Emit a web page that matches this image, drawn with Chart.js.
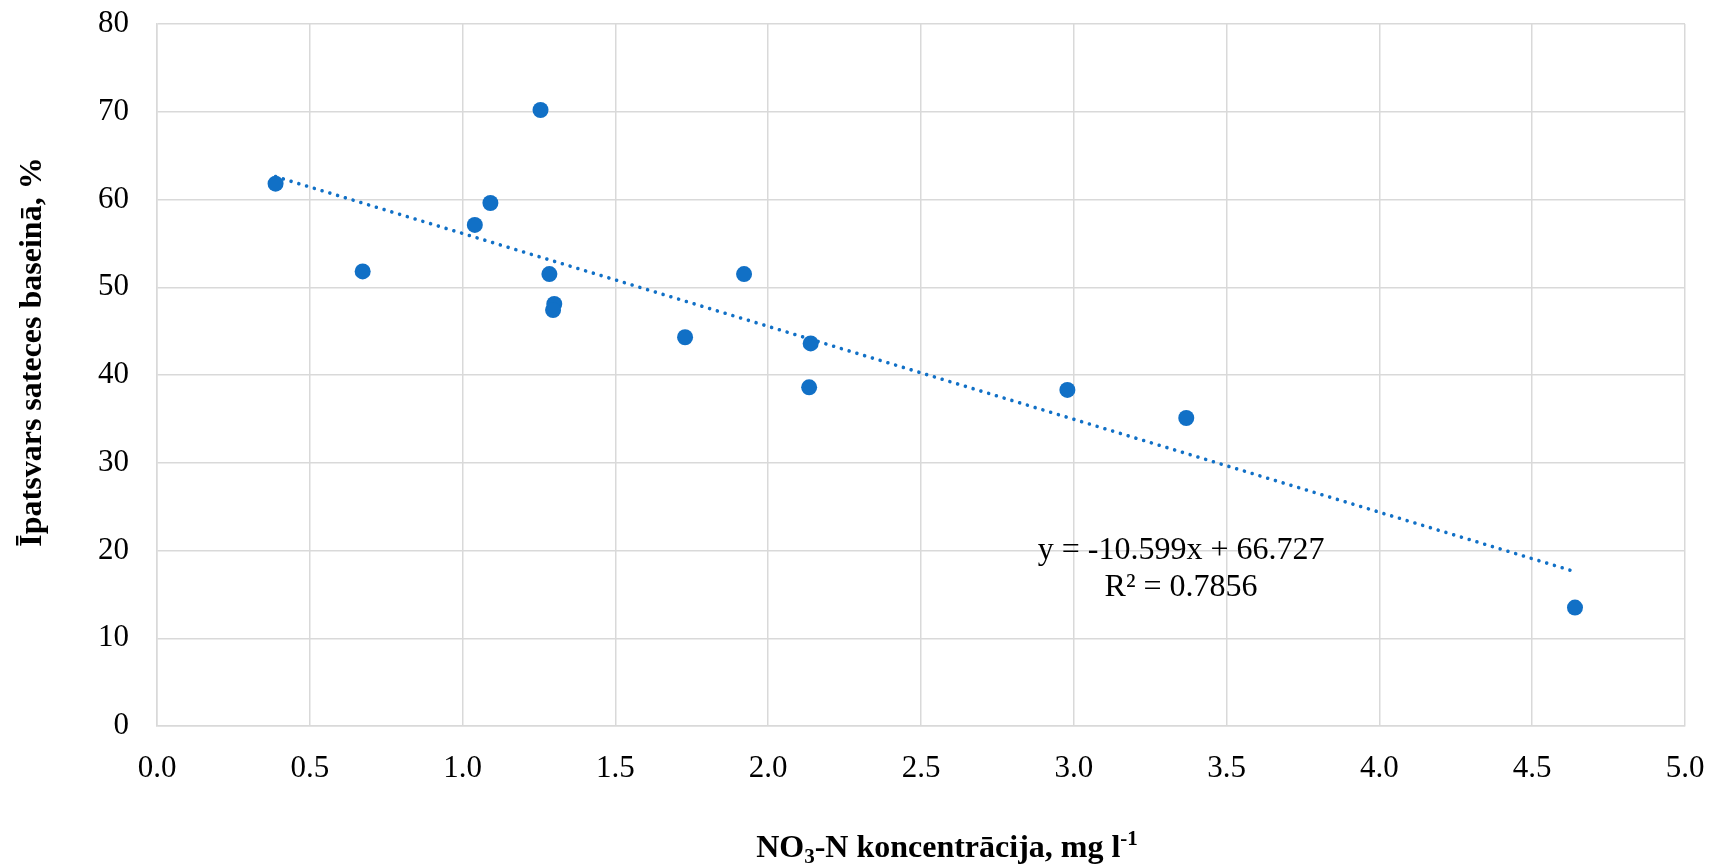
<!DOCTYPE html>
<html><head><meta charset="utf-8">
<script src="https://cdn.jsdelivr.net/npm/chart.js@4.4.1/dist/chart.umd.min.js"></script>
<style>html,body{margin:0;padding:0;background:#fff;} canvas{display:block;}</style>
</head><body>
<canvas id="c" width="1714" height="865"></canvas>
<script>
// ---- data ----
const nitrateConc = [0.388, 0.673, 1.040, 1.091, 1.255, 1.284, 1.300, 1.296, 1.728, 1.921, 2.139, 2.134, 2.979, 3.368, 4.640];
const shareInBasin = [61.8, 51.8, 57.1, 59.6, 70.2, 51.5, 48.1, 47.4, 44.3, 51.5, 43.6, 38.6, 38.3, 35.1, 13.5];
const xTickValues = [0, 0.5, 1.0, 1.5, 2.0, 2.5, 3.0, 3.5, 4.0, 4.5, 5.0];
const yTickValues = [0, 10, 20, 30, 40, 50, 60, 70, 80];
const trendLabelLines = ['y = -10.599x + 66.727', 'R² = 0.7856'];
const yTitle = 'Īpatsvars sateces baseinā, %';
const xTitleParts = [['NO', 'n'], ['3', 'sub'], ['-N koncentrācija, mg l', 'n'], ['-1', 'sup']];

// ---- least-squares trend line through the data ----
function linReg(xs, ys) {
  const n = xs.length;
  const mx = xs.reduce((a, b) => a + b, 0) / n;
  const my = ys.reduce((a, b) => a + b, 0) / n;
  let sxy = 0, sxx = 0;
  for (let i = 0; i < n; i++) { sxy += (xs[i] - mx) * (ys[i] - my); sxx += (xs[i] - mx) ** 2; }
  const b = sxy / sxx;
  return { slope: b, intercept: my - b * mx };
}
const reg = linReg(nitrateConc, shareInBasin);
const xMin = Math.min(...nitrateConc), xMax = Math.max(...nitrateConc);
const trendPoints = [xMin, xMax].map(x => ({ x, y: reg.intercept + reg.slope * x }));
const scatterPoints = nitrateConc.map((x, i) => ({ x, y: shareInBasin[i] }));

const SERIF = "'Liberation Serif', 'Times New Roman', serif";
const BLUE = '#1170C6';
const GRID = '#d9d9d9';

const textPlugin = {
  id: 'texts',
  afterDraw(chart) {
    const ctx = chart.ctx;
    const xs = chart.scales.x, ys = chart.scales.y;
    ctx.save();
    ctx.fillStyle = '#000';
    // equation label
    ctx.font = '32px ' + SERIF;
    ctx.textAlign = 'center';
    ctx.textBaseline = 'alphabetic';
    const eqX = xs.getPixelForValue(3.351);
    const eqY = ys.getPixelForValue(19.0);
    ctx.fillText(trendLabelLines[0], eqX, eqY);
    ctx.fillText(trendLabelLines[1], eqX, eqY + 37);

    // y-axis title
    ctx.save();
    ctx.font = 'bold 32px ' + SERIF;
    ctx.translate(33, 352);
    ctx.rotate(-Math.PI / 2);
    ctx.textAlign = 'center';
    ctx.textBaseline = 'middle';
    ctx.fillText(yTitle, 0, 0);
    ctx.restore();

    // x-axis title with sub/superscript
    const big = 'bold 32px ' + SERIF, small = 'bold 21px ' + SERIF;
    let total = 0;
    xTitleParts.forEach(([t, k]) => { ctx.font = k === 'n' ? big : small; total += ctx.measureText(t).width; });
    let x = 947 - total / 2;
    const base = 857;
    ctx.textAlign = 'left';
    ctx.textBaseline = 'alphabetic';
    xTitleParts.forEach(([t, k]) => {
      ctx.font = k === 'n' ? big : small;
      const dy = k === 'sub' ? 6 : (k === 'sup' ? -12 : 0);
      ctx.fillText(t, x, base + dy);
      x += ctx.measureText(t).width;
    });
    ctx.restore();
  }
};

new Chart(document.getElementById('c'), {
  type: 'scatter',
  data: {
    datasets: [
      {
        type: 'line',
        label: 'trend',
        data: trendPoints,
        borderColor: BLUE,
        borderWidth: 3.6,
        borderDash: [0.001, 8.1],
        borderCapStyle: 'round',
        pointRadius: 0,
        fill: false,
        order: 0
      },
      {
        label: 'data',
        data: scatterPoints,
        backgroundColor: BLUE,
        borderColor: BLUE,
        borderWidth: 0,
        pointRadius: 8,
        pointHoverRadius: 8,
        order: 1
      }
    ]
  },
  options: {
    responsive: false,
    animation: false,
    events: [],
    layout: { padding: { left: 0, top: 24, right: 29, bottom: 0 } },
    plugins: { legend: { display: false }, tooltip: { enabled: false } },
    scales: {
      x: {
        type: 'linear',
        min: 0, max: 5,
        afterBuildTicks: s => { s.ticks = xTickValues.map(v => ({ value: v })); },
        afterFit: s => { s.height = 139; s.paddingLeft = 0; s.paddingRight = 0; },
        grid: { color: GRID, lineWidth: 1.5, drawTicks: false },
        border: { color: GRID, width: 1.5 },
        ticks: {
          padding: 24,
          color: '#000',
          font: { family: SERIF, size: 31 },
          maxRotation: 0,
          autoSkip: false,
          callback: v => Number(v).toFixed(1)
        }
      },
      y: {
        type: 'linear',
        min: 0, max: 80,
        afterBuildTicks: s => { s.ticks = yTickValues.map(v => ({ value: v })); },
        afterFit: s => { s.width = 157; s.paddingTop = 0; s.paddingBottom = 0; },
        grid: { color: GRID, lineWidth: 1.5, drawTicks: false },
        border: { color: GRID, width: 1.5 },
        ticks: {
          padding: 28,
          color: '#000',
          font: { family: SERIF, size: 31 },
          autoSkip: false,
          callback: v => String(v)
        }
      }
    }
  },
  plugins: [textPlugin]
});
</script>
</body></html>
